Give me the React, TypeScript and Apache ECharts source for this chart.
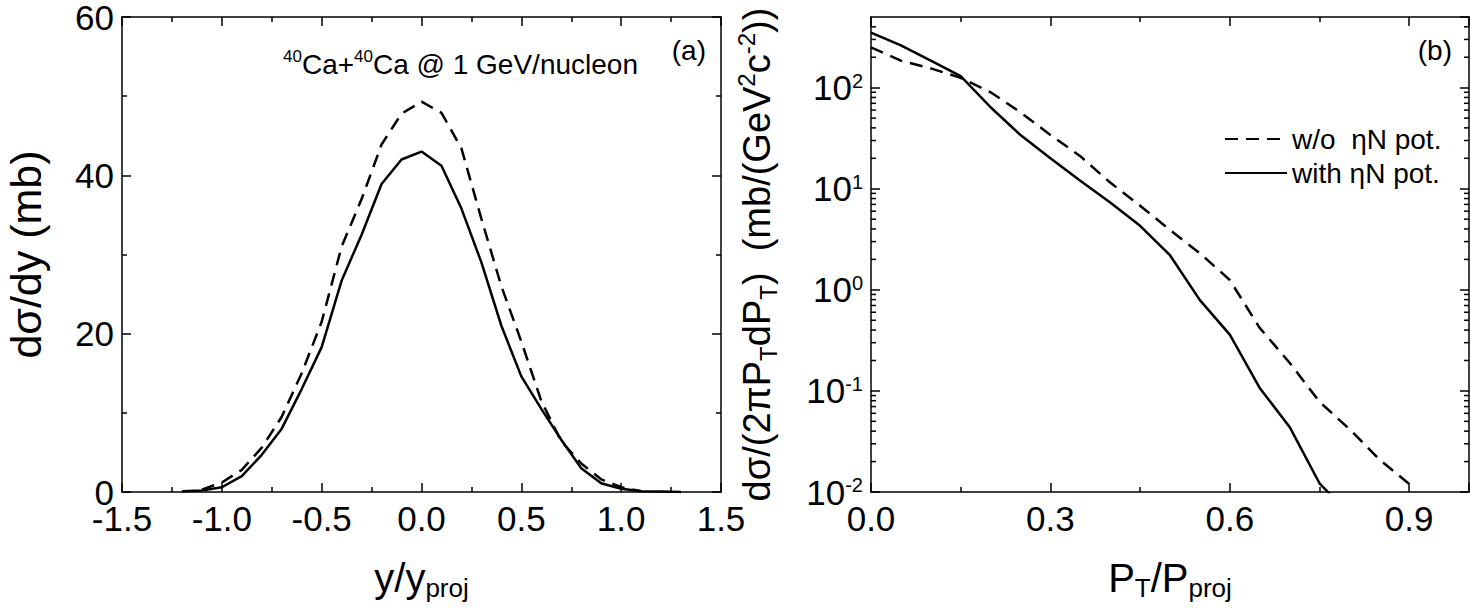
import React, { useEffect, useRef } from "react";
import * as echarts from "echarts";

// ---------- data ----------
// Panel (a): rapidity distribution
const rapidityWithPotX = [-1.2, -1.1, -1.0, -0.9, -0.8, -0.7, -0.6, -0.5, -0.4, -0.3, -0.2, -0.1, 0.0, 0.1, 0.2, 0.3, 0.4, 0.5, 0.6, 0.7, 0.8, 0.9, 1.0, 1.1, 1.2, 1.3];
const rapidityWithPot = [0.1, 0.2, 0.6, 2.0, 4.7, 8.0, 13.0, 18.3, 26.7, 32.5, 38.9, 42.0, 43.0, 41.2, 35.8, 29.0, 21.0, 14.6, 10.5, 6.6, 3.0, 1.1, 0.4, 0.1, 0.05, 0.0];
const rapidityWithoutPotX = [-1.1, -1.0, -0.9, -0.8, -0.7, -0.6, -0.5, -0.4, -0.3, -0.2, -0.1, 0.0, 0.1, 0.2, 0.3, 0.4, 0.5, 0.6, 0.7, 0.8, 0.9, 1.0, 1.1];
const rapidityWithoutPot = [0.3, 1.2, 2.8, 5.6, 9.5, 15.0, 21.5, 31.0, 37.0, 43.9, 47.8, 49.3, 47.9, 43.4, 34.5, 26.0, 19.0, 11.5, 6.4, 3.6, 1.6, 0.6, 0.1];

// Panel (b): transverse momentum spectra
const ptWithPotX = [0.0, 0.05, 0.1, 0.15, 0.2, 0.25, 0.3, 0.35, 0.4, 0.45, 0.5, 0.55, 0.6, 0.65, 0.7, 0.75, 0.8];
const ptWithPot = [350, 262, 185, 130, 64, 34, 20, 12, 7.3, 4.3, 2.2, 0.79, 0.36, 0.107, 0.044, 0.0122, 0.006];
const ptWithoutPotX = [0.0, 0.05, 0.1, 0.15, 0.2, 0.25, 0.3, 0.35, 0.4, 0.45, 0.5, 0.55, 0.6, 0.65, 0.7, 0.75, 0.8, 0.85, 0.9];
const ptWithoutPot = [250, 185, 155, 125, 90, 57, 34, 21, 11.5, 6.8, 3.9, 2.3, 1.25, 0.42, 0.19, 0.078, 0.042, 0.021, 0.012];

const seriesNames = ["w/o  \u03b7N pot.", "with \u03b7N pot."];
const logMinorTicks = [
  0.02, 0.03, 0.04, 0.05, 0.06, 0.07, 0.08, 0.09,
  0.2, 0.3, 0.4, 0.5, 0.6, 0.7, 0.8, 0.9,
  2, 3, 4, 5, 6, 7, 8, 9,
  20, 30, 40, 50, 60, 70, 80, 90,
  200, 300, 400,
];

const zip = (xs: number[], ys: number[]) => xs.map((x, i) => [x, ys[i]]);

const FONT = "'Liberation Sans', Arial, Helvetica, sans-serif";
const BLACK = "#000";
const TICK_FONT = 35;

function axisBase(extra: any) {
  return {
    axisLine: { show: true, onZero: false, lineStyle: { color: BLACK, width: 1.5 } },
    axisTick: { show: true, inside: true, length: 9, lineStyle: { color: BLACK, width: 1.5 } },
    minorTick: { show: true, splitNumber: 2, length: 5, lineStyle: { color: BLACK, width: 1.5 } },
    splitLine: { show: false },
    minorSplitLine: { show: false },
    ...extra,
  };
}

export default function App() {
  const ref = useRef<HTMLDivElement>(null);

  useEffect(() => {
    if (!ref.current) return;
    const chart = echarts.init(ref.current, undefined, { renderer: "svg" });

    const hiddenLabel = { show: false };
    const subRich = {
      m: { fontSize: 40, lineHeight: 46, verticalAlign: "middle", color: BLACK, fontFamily: FONT },
      s: { fontSize: 26, lineHeight: 18, verticalAlign: "bottom", color: BLACK, fontFamily: FONT },
    };
    const yRich = {
      m: { fontSize: 38, lineHeight: 46, verticalAlign: "middle", color: BLACK, fontFamily: FONT },
      s: { fontSize: 24, lineHeight: 18, verticalAlign: "bottom", color: BLACK, fontFamily: FONT },
      u: { fontSize: 24, lineHeight: 18, verticalAlign: "top", color: BLACK, fontFamily: FONT },
    };

    const option: any = {
      animation: false,
      backgroundColor: "#fff",
      textStyle: { fontFamily: FONT, color: BLACK },
      grid: [
        { left: 122, top: 17, width: 599, height: 475, outerBoundsMode: "none", containLabel: false },
        { left: 871, top: 17, width: 598, height: 475, outerBoundsMode: "none", containLabel: false },
      ],
      xAxis: [
        axisBase({
          type: "value", gridIndex: 0, position: "bottom", min: -1.5, max: 1.5, interval: 0.5,
          axisLabel: { fontSize: TICK_FONT, color: BLACK, margin: 9, formatter: (v: number) => v.toFixed(1) },
          name: "{m|y/y}{s|proj}", nameLocation: "middle", nameGap: 63,
          nameTextStyle: { rich: subRich },
        }),
        axisBase({ type: "value", gridIndex: 0, position: "top", min: -1.5, max: 1.5, interval: 0.5, axisLabel: hiddenLabel }),
        axisBase({
          type: "value", gridIndex: 1, position: "bottom", min: 0, max: 1.0, interval: 0.3,
          axisLabel: { fontSize: TICK_FONT, color: BLACK, margin: 9, showMaxLabel: false, formatter: (v: number) => v.toFixed(1) },
          name: "{m|P}{s|T}{m|/P}{s|proj}", nameLocation: "middle", nameGap: 63,
          nameTextStyle: { rich: subRich },
        }),
        axisBase({ type: "value", gridIndex: 1, position: "top", min: 0, max: 1.0, interval: 0.3, axisLabel: hiddenLabel }),
      ],
      yAxis: [
        axisBase({
          type: "value", gridIndex: 0, position: "left", min: 0, max: 60, interval: 20,
          axisLabel: { fontSize: TICK_FONT, color: BLACK, margin: 8 },
          name: "d\u03c3/dy (mb)", nameLocation: "middle", nameGap: 75,
          nameTextStyle: { fontSize: 43, color: BLACK, fontFamily: FONT },
        }),
        axisBase({ type: "value", gridIndex: 0, position: "right", min: 0, max: 60, interval: 20, axisLabel: hiddenLabel }),
        axisBase({
          type: "log", logBase: 10, gridIndex: 1, position: "left", min: 0.01, max: 500,
          minorTick: { show: false },
          axisLabel: {
            color: BLACK, margin: 8, showMaxLabel: false,
            formatter: (v: number) => `{b|10}{e|${Math.round(Math.log10(v))}}`,
            rich: {
              b: { fontSize: TICK_FONT, lineHeight: 34, verticalAlign: "middle", color: BLACK, fontFamily: FONT },
              e: { fontSize: 20, lineHeight: 14, verticalAlign: "top", color: BLACK, fontFamily: FONT },
            },
          },
          name: "{m|d\u03c3/(2\u03c0P}{s|T}{m|dP}{s|T}{m|)  (mb/(GeV}{u|2}{m|c}{u|-2}{m|))}",
          nameLocation: "middle", nameGap: 91,
          nameTextStyle: { rich: yRich },
        }),
        axisBase({
          type: "log", logBase: 10, gridIndex: 1, position: "right", min: 0.01, max: 500,
          minorTick: { show: false }, axisLabel: hiddenLabel,
        }),
      ],
      legend: {
        data: seriesNames,
        orient: "vertical",
        left: 1219,
        top: 120,
        itemWidth: 62,
        itemHeight: 14,
        itemGap: 6,
        itemStyle: { opacity: 0, borderWidth: 0 },
        textStyle: { fontSize: 28, color: BLACK, fontFamily: FONT },
        selectedMode: false,
      },
      graphic: [
        {
          type: "text", x: 706, y: 50,
          style: { text: "(a)", fontSize: 28, fontFamily: FONT, fill: BLACK, align: "right", textAlign: "right", verticalAlign: "middle", textVerticalAlign: "middle" },
        },
        {
          type: "text", x: 1452, y: 50,
          style: { text: "(b)", fontSize: 28, fontFamily: FONT, fill: BLACK, align: "right", textAlign: "right", verticalAlign: "middle", textVerticalAlign: "middle" },
        },
        {
          type: "text", x: 283, y: 64,
          style: {
            text: "{s|40}{m|Ca+}{s|40}{m|Ca @ 1 GeV/nucleon}",
            align: "left", textAlign: "left", verticalAlign: "middle", textVerticalAlign: "middle",
            fill: BLACK, fontFamily: FONT,
            rich: {
              m: { fontSize: 28, lineHeight: 32, verticalAlign: "middle", fill: BLACK, fontFamily: FONT },
              s: { fontSize: 17, lineHeight: 14, verticalAlign: "top", fill: BLACK, fontFamily: FONT },
            },
          },
        },
      ],
      series: [
        {
          name: "a-without", type: "line", xAxisIndex: 0, yAxisIndex: 0, symbol: "none",
          data: zip(rapidityWithoutPotX, rapidityWithoutPot),
          lineStyle: { color: BLACK, width: 2.5, type: [13, 8] },
        },
        {
          name: "a-with", type: "line", xAxisIndex: 0, yAxisIndex: 0, symbol: "none",
          data: zip(rapidityWithPotX, rapidityWithPot),
          lineStyle: { color: BLACK, width: 2.5, type: "solid" },
        },
        {
          name: seriesNames[0], type: "line", xAxisIndex: 2, yAxisIndex: 2, symbol: "none",
          data: zip(ptWithoutPotX, ptWithoutPot),
          itemStyle: { color: BLACK },
          lineStyle: { color: BLACK, width: 2.5, type: [13, 8] },
        },
        {
          name: seriesNames[1], type: "line", xAxisIndex: 2, yAxisIndex: 2, symbol: "none",
          data: zip(ptWithPotX, ptWithPot),
          itemStyle: { color: BLACK },
          lineStyle: { color: BLACK, width: 2.5, type: "solid" },
        },
        {
          name: "log-minor-ticks", type: "custom", xAxisIndex: 2, yAxisIndex: 2, silent: true,
          data: logMinorTicks.map((v) => [0, v]),
          renderItem: (params: any, api: any) => {
            const cs = params.coordSys;
            const p = api.coord([0, api.value(1)]);
            const y = p[1];
            const st = { stroke: BLACK, lineWidth: 1.5 };
            return {
              type: "group",
              children: [
                { type: "line", shape: { x1: cs.x, y1: y, x2: cs.x + 5, y2: y }, style: st },
                { type: "line", shape: { x1: cs.x + cs.width - 5, y1: y, x2: cs.x + cs.width, y2: y }, style: st },
              ],
            };
          },
        },
      ],
    };

    chart.setOption(option);
    return () => chart.dispose();
  }, []);

  return (
    <div
      ref={ref}
      style={{ position: "fixed", left: 0, top: 0, width: 1470, height: 612, background: "#fff" }}
    />
  );
}
